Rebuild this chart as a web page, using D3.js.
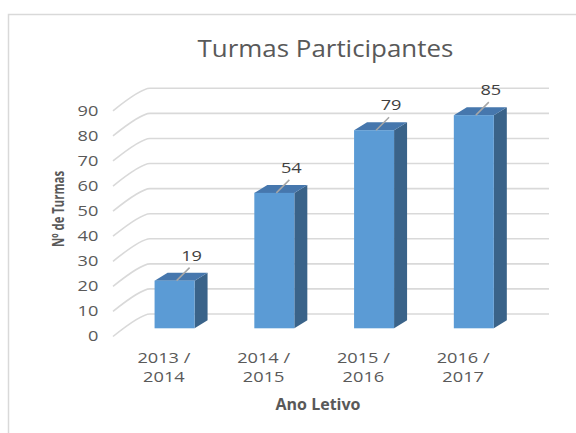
<!DOCTYPE html>
<html>
<head>
<meta charset="utf-8">
<script src="https://cdnjs.cloudflare.com/ajax/libs/d3/7.8.5/d3.min.js"></script>
<style>
  html, body { margin: 0; padding: 0; background: #ffffff; }
  svg { display: block; }
</style>
</head>
<body>
<svg id="chart" width="576" height="433"></svg>
<script>
// ---- data ----
const categories = ["2013 / 2014", "2014 / 2015", "2015 / 2016", "2016 / 2017"];
const categoryLines = [["2013 /", "2014"], ["2014 /", "2015"], ["2015 /", "2016"], ["2016 /", "2017"]];
const values = [19, 54, 79, 85];
const yTicks = [0, 10, 20, 30, 40, 50, 60, 70, 80, 90];
const titleText = "Turmas Participantes";
const xTitleText = "Ano Letivo";
const yTitleText = "Nº de Turmas";

// ---- layout ----
const W = 576, H = 433;
const DX = 36, DY = -22.5;          // depth of the 3D floor/walls
const BAR_OFF_X = 10.7, BAR_OFF_Y = -8.2; // bar front position inside depth
const BAR_W = 40, BDX = 13, BDY = -8;     // bar width and bar depth
const FONT = "'Open Sans', 'Noto Sans', sans-serif";
const STRETCH = 1.3;

const svg = d3.select("#chart");

const x = d3.scaleBand().domain(categories).range([114, 513]).paddingInner(0).paddingOuter(0);
const y = d3.scaleLinear().domain([0, 90]).range([336.5, 110.8]);

// frame (only left & top edges visible)
svg.append("path")
  .attr("d", `M8.5,${H} L8.5,14.5 L${W},14.5`)
  .attr("fill", "none").attr("stroke", "#d9d9d9").attr("stroke-width", 1.5);

// title
svg.append("text")
  .attr("transform", "translate(325.5,57) scale(1.08,1)")
  .attr("text-anchor", "middle")
  .attr("font-family", FONT).attr("font-size", 24)
  .attr("fill", "#595959")
  .text(titleText);

// gridlines: back wall + side wall
const x0 = x.range()[0], x1 = x.range()[1];
const grid = svg.append("g").attr("fill", "none").attr("stroke", "#d9d9d9").attr("stroke-width", 1.6);
yTicks.forEach(v => {
  const fy = y(v);
  const by = fy + DY;
  grid.append("line").attr("x1", x0 + DX).attr("x2", x1 + DX).attr("y1", by).attr("y2", by);
  grid.append("path")
    .attr("d", `M${x0 - 1},${fy} Q${x0 + DX - 9},${by} ${x0 + DX},${by}`);
});

// y tick labels
svg.append("g").selectAll("text").data(yTicks).join("text")
  .attr("transform", d => `translate(98.3,${y(d) + 4.8}) scale(${STRETCH},1)`)
  .attr("text-anchor", "end")
  .attr("font-family", FONT).attr("font-size", 14)
  .attr("fill", "#595959")
  .text(d => d);

// bars
const bars = svg.append("g");
categories.forEach((c, i) => {
  const v = values[i];
  const left = x(c) + x.bandwidth() / 2 + BAR_OFF_X - BAR_W / 2;
  const right = left + BAR_W;
  const bottom = y(0) + BAR_OFF_Y;
  const top = y(v) + BAR_OFF_Y;
  // side
  bars.append("path")
    .attr("d", `M${right},${top} L${right + BDX},${top + BDY} L${right + BDX},${bottom + BDY} L${right},${bottom} Z`)
    .attr("fill", "#3a6389");
  // top
  bars.append("path")
    .attr("d", `M${left},${top} L${left + BDX},${top + BDY} L${right + BDX},${top + BDY} L${right},${top} Z`)
    .attr("fill", "#4677ad");
  // front
  bars.append("rect")
    .attr("x", left).attr("y", top).attr("width", BAR_W).attr("height", bottom - top)
    .attr("fill", "#5b9bd5");

  // leader line + data label
  const cx = left + BAR_W / 2;
  bars.append("line")
    .attr("x1", cx + 2).attr("y1", top)
    .attr("x2", cx + 15).attr("y2", top - 13)
    .attr("stroke", "#a6a6a6").attr("stroke-width", 1.5);
  bars.append("text")
    .attr("transform", `translate(${cx + 17},${top - 20}) scale(${STRETCH},1)`)
    .attr("text-anchor", "middle")
    .attr("font-family", FONT).attr("font-size", 14)
    .attr("fill", "#404040")
    .text(v);
});

// x category labels
const xl = svg.append("g");
categories.forEach((c, i) => {
  const cx = x(c) + x.bandwidth() / 2;
  categoryLines[i].forEach((line, j) => {
    xl.append("text")
      .attr("transform", `translate(${cx},${363 + j * 18.7}) scale(${STRETCH},1)`)
      .attr("text-anchor", "middle")
      .attr("font-family", FONT).attr("font-size", 14)
      .attr("fill", "#595959")
      .text(line);
  });
});

// axis titles
svg.append("text")
  .attr("x", 318).attr("y", 410)
  .attr("text-anchor", "middle")
  .attr("font-family", FONT).attr("font-size", 16).attr("font-weight", "bold")
  .attr("fill", "#595959")
  .text(xTitleText);

svg.append("text")
  .attr("transform", "translate(64,209) rotate(-90)")
  .attr("text-anchor", "middle")
  .attr("font-family", FONT).attr("font-size", 16.5).attr("font-weight", "bold")
  .attr("fill", "#595959")
  .attr("textLength", 76).attr("lengthAdjust", "spacingAndGlyphs")
  .text(yTitleText);
</script>
</body>
</html>
